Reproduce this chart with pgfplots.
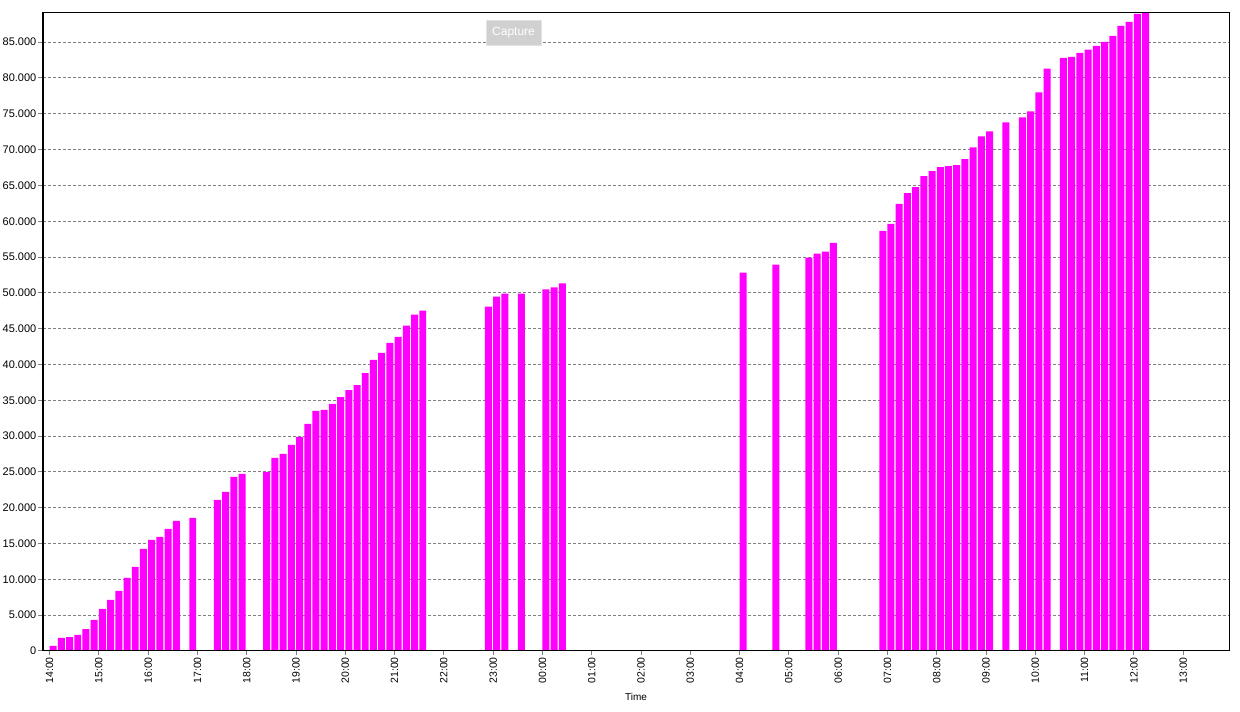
\documentclass[border=0pt]{standalone}
\usepackage{fontspec}
\setmainfont{Liberation Sans}
\usepackage{pgfplots}
\pgfplotsset{compat=1.18}
\definecolor{barmag}{HTML}{FF00FF}
\definecolor{gridgray}{HTML}{808080}
\definecolor{btnfill}{HTML}{D0D0D0}
\definecolor{btnedge}{HTML}{E2E2E2}

% x = minutes after 14:00, y = total result
\pgfplotstableread{
t     v
0     700
10    1820
20    1950
30    2240
40    3070
50    4330
60    5870
70    7120
80    8380
90    10200
100   11730
110   14250
120   15500
130   15920
140   17040
150   18160
170   18580
200   21090
210   22210
220   24300
230   24720
260   25000
270   26960
280   27510
290   28770
300   29890
310   31700
320   33520
330   33660
340   34500
350   35450
360   36430
370   37130
380   38800
390   40630
400   41610
410   43020
420   43860
430   45410
440   46950
450   47520
530   48080
540   49490
550   49910
570   49910
600   50470
610   50750
620   51310
840   52820
880   53940
920   54910
930   55460
940   55740
950   56990
1010  58660
1020  59630
1030  62410
1040  63940
1050  64770
1060  66300
1070  66990
1080  67550
1090  67690
1100  67820
1110  68660
1120  70320
1130  71850
1140  72550
1160  73800
1180  74490
1190  75320
1200  78000
1210  81300
1230  82820
1240  82960
1250  83520
1260  83940
1270  84490
1280  85050
1290  85880
1300  87270
1310  87820
1320  88940
1330  89100
}\totalresult

\begin{document}
\begin{tikzpicture}
\begin{axis}[
    at={(0,0)}, anchor=south west,
    scale only axis,
    width=1187pt, height=638.7pt,
    xmin=-8, xmax=1437,
    ymin=0, ymax=89170,
    ybar,
    bar width=8.5,
    bar shift=4.3,
    axis line style={line width=1pt},
    tick align=outside,
    xtick pos=left, ytick pos=left,
    major tick length=4.5pt,
    major tick style={gridgray, line width=1pt},
    xtick={0,60,...,1380},
    xticklabels={14:00,15:00,16:00,17:00,18:00,19:00,20:00,21:00,22:00,23:00,00:00,01:00,02:00,03:00,04:00,05:00,06:00,07:00,08:00,09:00,10:00,11:00,12:00,13:00},
    xticklabel style={rotate=90, anchor=east, font=\fontsize{10.5}{12}\selectfont, inner sep=1.5pt},
    ytick={0,5000,...,85000},
    yticklabels={0,5.000,10.000,15.000,20.000,25.000,30.000,35.000,40.000,45.000,50.000,55.000,60.000,65.000,70.000,75.000,80.000,85.000},
    yticklabel style={font=\fontsize{11}{12}\selectfont, inner sep=2pt},
    ymajorgrids=true,
    major grid style={gridgray, line width=1pt, dash pattern=on 3pt off 2pt},
    xlabel={Time},
    xlabel style={at={(axis description cs:0.4996,0)}, anchor=center, yshift=-46pt, font=\fontsize{10}{12}\selectfont},
    title={Total Result},
    title style={at={(axis description cs:0.4827,1)}, anchor=base, yshift=9.3pt, font=\bfseries\fontsize{13}{14}\selectfont, text=red},
]
\addplot[fill=barmag, draw=none] table[x=t, y=v] {\totalresult};
\draw[line width=2.2pt, black] (rel axis cs:0,1) -- (rel axis cs:0,0) -- (rel axis cs:1,0);
\node[fill=btnfill, draw=btnedge, line width=1pt, text=white, minimum width=55pt, minimum height=25pt, inner sep=0pt, font=\fontsize{12}{13}\selectfont]
    at (axis description cs:0.3964,0.9676) {Capture};
\end{axis}
\pgfresetboundingbox
\useasboundingbox (-43pt,-61pt) rectangle (1197pt,651pt);
\end{tikzpicture}
\end{document}
